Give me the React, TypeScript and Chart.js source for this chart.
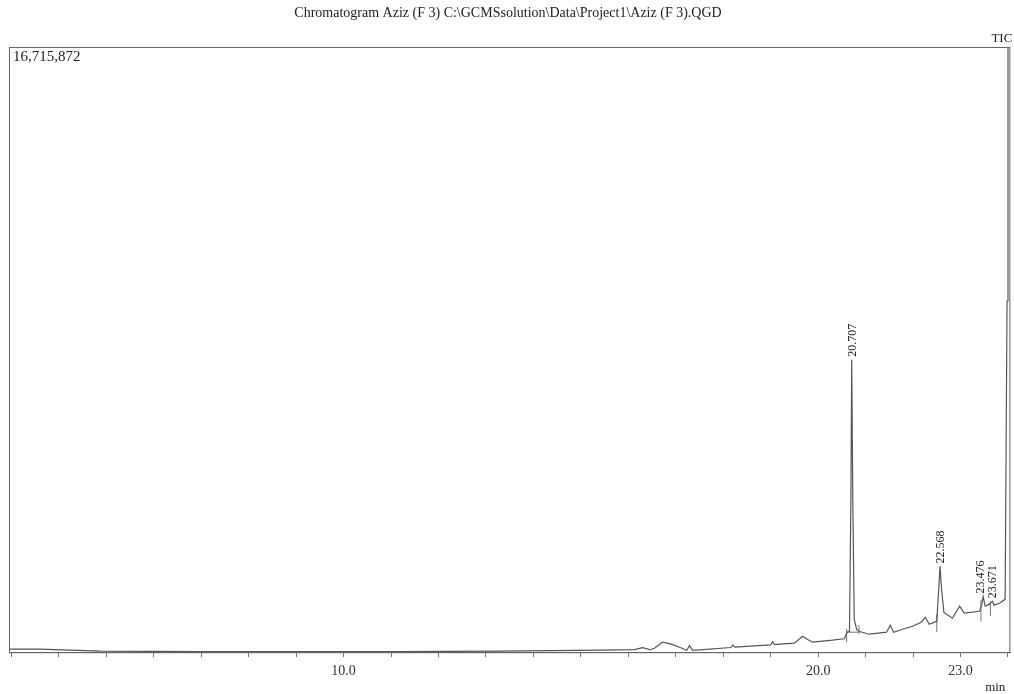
import React, { useEffect, useRef } from "react";
import { Chart, registerables } from "chart.js";

Chart.register(...registerables);

// Retention time (min) and TIC intensity
const times: number[] = [
  2.95, 3.6, 4.87, 6.97, 9.08, 11.18, 13.29, 14.4, 15.39, 16.13, 16.3, 16.45, 16.55,
  16.72, 16.91, 17.08, 17.23, 17.29, 17.35, 17.44, 18.16, 18.2, 18.24, 19.0, 19.04, 19.08,
  19.19, 19.5, 19.67, 19.77, 19.88, 20.3, 20.55, 20.61, 20.66, 20.69, 20.707, 20.73, 20.76,
  20.81, 20.85, 21.08, 21.44, 21.52, 21.59, 21.78, 21.99, 22.17, 22.26, 22.34, 22.5, 22.54,
  22.568, 22.6, 22.65, 22.83, 22.98, 23.08, 23.4, 23.45, 23.476, 23.52, 23.6, 23.671, 23.71,
  23.82, 23.94, 23.98, 24.0,
];
const intensities: number[] = [
  83000, 83000, 27600, 13800, 13800, 13800, 27600, 41400, 55200, 69000, 124000, 69000, 110000,
  276000, 221000, 138000, 55000, 179000, 55000, 55000, 130000, 200000, 140000, 200000, 290000, 210000,
  221000, 248000, 441000, 359000, 276000, 331000, 372000, 552000, 579000, 4220000, 8080000, 4220000, 910000,
  634000, 579000, 497000, 552000, 745000, 552000, 634000, 717000, 828000, 965000, 772000, 855000, 1740000,
  2370000, 1740000, 1100000, 938000, 1270000, 1080000, 1130000, 1320000, 1540000, 1270000, 1320000, 1410000, 1300000,
  1350000, 1460000, 9700000, 18000000,
];

// Integration marks (segments: start time, start value, end time, end value)
const segT1: number[] = [20.6, 20.6, 20.86, 22.5, 23.43, 23.63];
const segV1: number[] = [280000, 552000, 500000, 560000, 850000, 1000000];
const segT2: number[] = [20.6, 20.86, 20.86, 22.5, 23.43, 23.63];
const segV2: number[] = [650000, 552000, 750000, 1050000, 1450000, 1400000];

const peakTimes: number[] = [20.707, 22.568, 23.476, 23.671];
const peakValues: number[] = [8080000, 2370000, 1540000, 1410000];
const peakLabels: string[] = ["20.707", "22.568", "23.476", "23.671"];

const xTickLabels: number[] = [10, 20, 23];
const yMax = 16715872;
const titleText = "Chromatogram Aziz (F 3) C:\\GCMSsolution\\Data\\Project1\\Aziz (F 3).QGD";

const SERIF = "'Liberation Serif', 'DejaVu Serif', serif";

const textPlugin = {
  id: "gcmsText",
  afterDraw(chart: any) {
    const { ctx, chartArea, scales } = chart;
    const { left, right, top, bottom } = chartArea;
    ctx.save();
    // frame
    ctx.strokeStyle = "#666";
    ctx.lineWidth = 1;
    ctx.strokeRect(left + 0.5, top + 0.5, right - left - 1, bottom - top);
    ctx.fillStyle = "#222";
    ctx.font = `14px ${SERIF}`;
    ctx.textBaseline = "middle";
    ctx.textAlign = "center";
    ctx.fillText(titleText, 508, 13);
    ctx.textAlign = "left";
    ctx.font = `15px ${SERIF}`;
    ctx.fillText(yMax.toLocaleString("en-US"), left + 4, top + 10);
    ctx.font = `13px ${SERIF}`;
    ctx.textAlign = "right";
    ctx.fillText("TIC", right + 2, top - 8);
    ctx.fillText("min", right - 5, bottom + 35);
    // peak labels
    ctx.font = `12px ${SERIF}`;
    ctx.textAlign = "left";
    peakTimes.forEach((t, i) => {
      const x = scales.x.getPixelForValue(t);
      const y = scales.y.getPixelForValue(peakValues[i]);
      ctx.save();
      ctx.translate(x + (i === 2 ? -2 : i === 3 ? 0 : 1), y - 3);
      ctx.rotate(-Math.PI / 2);
      ctx.fillText(peakLabels[i], 0, 0);
      ctx.restore();
    });
    ctx.restore();
  },
};

export default function App() {
  const ref = useRef<HTMLCanvasElement | null>(null);
  useEffect(() => {
    if (!ref.current) return;
    const trace = times.map((t, i) => ({ x: t, y: intensities[i] }));
    const marks: { x: number; y: number | null }[] = [];
    segT1.forEach((t, i) => {
      marks.push({ x: t, y: segV1[i] });
      marks.push({ x: segT2[i], y: segV2[i] });
      marks.push({ x: segT2[i], y: null });
    });
    const chart = new Chart(ref.current, {
      type: "line",
      data: {
        datasets: [
          {
            data: trace,
            borderColor: "#555",
            borderWidth: 1.2,
            pointRadius: 0,
            tension: 0,
          },
          {
            data: marks as any,
            borderColor: "#777",
            borderWidth: 1,
            pointRadius: 0,
            spanGaps: false,
          },
        ],
      },
      options: {
        animation: false,
        responsive: false,
        maintainAspectRatio: false,
        layout: { padding: { left: 9, right: 3, top: 47, bottom: 8 } },
        plugins: { legend: { display: false }, tooltip: { enabled: false }, title: { display: false } },
        scales: {
          x: {
            type: "linear",
            min: 2.95,
            max: 24.05,
            afterBuildTicks: (axis: any) => {
              const ticks = [];
              for (let v = 3; v <= 24; v++) ticks.push({ value: v });
              axis.ticks = ticks;
            },
            ticks: {
              autoSkip: false,
              maxRotation: 0,
              color: "#333",
              font: { family: SERIF, size: 14 },
              padding: 6,
              callback: (v: any) => (xTickLabels.includes(Number(v)) ? Number(v).toFixed(1) : ""),
            },
            grid: { drawOnChartArea: false, tickLength: 5, color: "#777" },
            border: { display: true, color: "#666" },
          },
          y: {
            display: false,
            min: 0,
            max: yMax,
          },
        },
      },
      plugins: [textPlugin],
    });
    return () => chart.destroy();
  }, []);
  return (
    <div style={{ position: "absolute", left: 0, top: 0, width: 1014, height: 694, background: "#fff" }}>
      <canvas ref={ref} width={1014} height={694} style={{ width: 1014, height: 694 }} />
    </div>
  );
}
